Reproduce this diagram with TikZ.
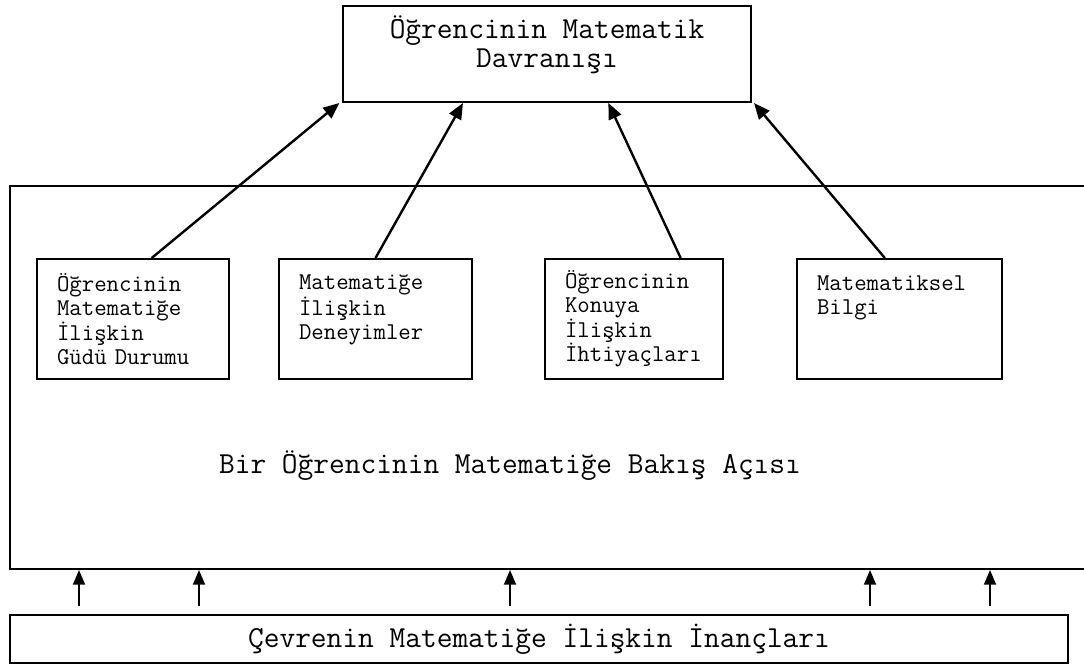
\documentclass[tikz,border=0pt]{standalone}
\usepackage{fontspec}
\setmonofont{Latin Modern Mono}
\usetikzlibrary{arrows.meta}

\begin{document}
\begin{tikzpicture}[x=0.75pt,y=-0.75pt,
    box/.style={draw, line width=1.5pt, inner sep=0pt},
    smallbox/.style={box, minimum height=90pt, inner xsep=15pt, text width=#1,
        align=left, font=\ttfamily\fontsize{18.1}{17.8}\selectfont},
    bigtext/.style={font=\ttfamily\fontsize{22.9}{21.5}\selectfont, align=center},
    upto/.style={-{Triangle[length=12pt,width=10pt]}, line width=1.8pt},
    upfrom/.style={-{Triangle[length=11pt,width=9pt]}, line width=1.4pt}]
\useasboundingbox (0,0) rectangle (1084,668);

% top: behaviour
\node[box, minimum width=306pt, minimum height=72pt] (dav) at (547,54) {};
\node[bigtext] (davtext) at (547,45) {Öğrencinin Matematik\\Davranışı};

% frame: point of view
\node[box, minimum width=817.5pt, minimum height=287.25pt] (view) at (555,377.5) {};
\node[bigtext] (viewtext) at (510,466) {Bir Öğrencinin Matematiğe Bakış Açısı};

% four factors
\node[smallbox=114pt] (b1) at (133,319) {Öğrencinin\\Matematiğe\\İlişkin\\Güdü Durumu};
\node[smallbox=114.75pt] (b2) at (375.5,319) {Matematiğe\\İlişkin\\Deneyimler\\~};
\node[smallbox=103.5pt] (b3) at (634,319) {Öğrencinin\\Konuya\\İlişkin\\İhtiyaçları};
\node[smallbox=123.75pt] (b4) at (899.5,319) {Matematiksel\\Bilgi\\~\\~};

\draw[upto] ([xshift=14pt]b1.north) -- ([xshift=-2pt]dav.south west);
\draw[upto] (b2.north) -- ([xshift=-63pt]dav.south);
\draw[upto] ([xshift=35pt]b3.north) -- ([xshift=46pt]dav.south);
\draw[upto] ([xshift=-11pt]b4.north) -- ([xshift=1.5pt]dav.south east);

% bottom: beliefs of the surroundings
\node[box, minimum width=793.5pt, minimum height=36pt] (cev) at (539,639)
    {\ttfamily\fontsize{22.9}{21.5}\selectfont Çevrenin Matematiğe İlişkin İnançları};

\foreach \x in {70,190,501,861,981}
    \draw[upfrom] ([xshift=\x*0.75pt, yshift=6pt]cev.north west) -- ([xshift=\x*0.75pt]view.south west);
\end{tikzpicture}
\end{document}
